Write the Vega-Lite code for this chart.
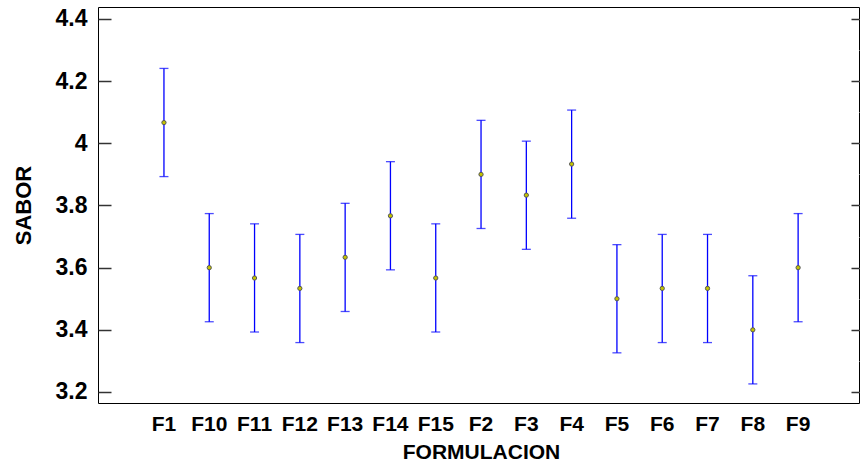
{
  "$schema": "https://vega.github.io/schema/vega-lite/v6.json",
  "width": 761,
  "height": 396,
  "autosize": {"type": "none"},
  "padding": {"left": 98, "top": 7, "right": 1, "bottom": 60},
  "background": "white",
  "config": {
    "view": {"stroke": "#000000", "strokeWidth": 1},
    "font": "Liberation Sans",
    "axis": {
      "labelFont": "Liberation Sans",
      "labelFontWeight": "bold",
      "labelFontSize": 21,
      "labelColor": "#000000",
      "titleFont": "Liberation Sans",
      "titleFontWeight": "bold",
      "titleFontSize": 21,
      "titleColor": "#000000",
      "grid": false,
      "domain": false
    }
  },
  "data": {
    "values": [
      {"formulacion": "F1", "sabor": 4.0667, "lo": 3.893, "hi": 4.241},
      {"formulacion": "F10", "sabor": 3.6, "lo": 3.426, "hi": 3.774},
      {"formulacion": "F11", "sabor": 3.5667, "lo": 3.393, "hi": 3.741},
      {"formulacion": "F12", "sabor": 3.5333, "lo": 3.359, "hi": 3.707},
      {"formulacion": "F13", "sabor": 3.6333, "lo": 3.459, "hi": 3.807},
      {"formulacion": "F14", "sabor": 3.7667, "lo": 3.593, "hi": 3.941},
      {"formulacion": "F15", "sabor": 3.5667, "lo": 3.393, "hi": 3.741},
      {"formulacion": "F2", "sabor": 3.9, "lo": 3.726, "hi": 4.074},
      {"formulacion": "F3", "sabor": 3.8333, "lo": 3.659, "hi": 4.007},
      {"formulacion": "F4", "sabor": 3.9333, "lo": 3.759, "hi": 4.107},
      {"formulacion": "F5", "sabor": 3.5, "lo": 3.326, "hi": 3.674},
      {"formulacion": "F6", "sabor": 3.5333, "lo": 3.359, "hi": 3.707},
      {"formulacion": "F7", "sabor": 3.5333, "lo": 3.359, "hi": 3.707},
      {"formulacion": "F8", "sabor": 3.4, "lo": 3.226, "hi": 3.574},
      {"formulacion": "F9", "sabor": 3.6, "lo": 3.426, "hi": 3.774}
    ]
  },
  "encoding": {
    "x": {
      "field": "formulacion",
      "type": "nominal",
      "sort": null,
      "scale": {"type": "band", "paddingInner": 0.2, "paddingOuter": 1, "align": 0.528},
      "axis": {
        "title": "FORMULACION",
        "labelAngle": 0,
        "ticks": false,
        "labelPadding": 10,
        "titleX": 383,
        "titleY": 55,
        "titleAlign": "center",
        "titleBaseline": "alphabetic",
        "titleAnchor": null
      }
    }
  },
  "layer": [
    {
      "mark": {"type": "rule", "color": "#0000ff", "strokeWidth": 1.3},
      "encoding": {
        "y": {
          "field": "lo",
          "type": "quantitative",
          "scale": {"domain": [3.1646, 4.4386], "nice": false, "zero": false},
          "axis": {
            "orient": "left",
            "title": "SABOR",
            "values": [3.2, 3.4, 3.6, 3.8, 4.0, 4.2, 4.4],
            "format": ".1~f",
            "tickSize": -13,
            "tickWidth": 1.5,
            "tickColor": "#333333",
            "labelPadding": 24,
            "labelFontSize": 23,
            "titleFontSize": 22,
            "titleAngle": -90,
            "titleX": -75,
            "titleY": 198,
            "titleAlign": "center",
            "titleBaseline": "middle",
            "titleAnchor": null
          }
        },
        "y2": {"field": "hi"}
      }
    },
    {
      "mark": {"type": "tick", "color": "#0000ff", "thickness": 1.3, "size": 9, "orient": "horizontal"},
      "encoding": {
        "y": {"field": "lo", "type": "quantitative"}
      }
    },
    {
      "mark": {"type": "tick", "color": "#0000ff", "thickness": 1.3, "size": 9, "orient": "horizontal"},
      "encoding": {
        "y": {"field": "hi", "type": "quantitative"}
      }
    },
    {
      "mark": {"type": "point", "shape": "circle", "filled": true, "size": 18, "fill": "#c4c400", "stroke": "#555555", "strokeWidth": 1, "opacity": 1},
      "encoding": {
        "y": {
          "field": "sabor",
          "type": "quantitative",
          "axis": {
            "orient": "right",
            "title": null,
            "labels": false,
            "values": [3.2, 3.4, 3.6, 3.8, 4.0, 4.2, 4.4],
            "tickSize": -8,
            "tickWidth": 1.5,
            "tickColor": "#333333"
          }
        }
      }
    }
  ],
  "resolve": {"axis": {"y": "independent"}}
}
